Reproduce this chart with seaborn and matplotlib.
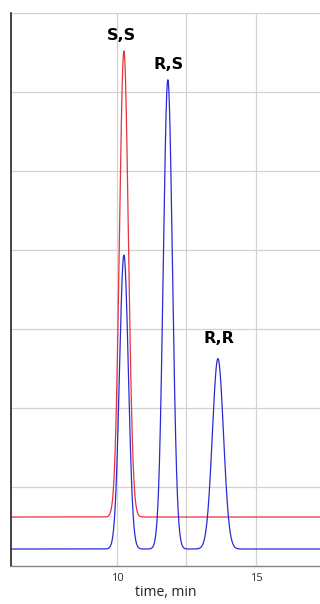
import numpy as np
import pandas as pd
import matplotlib
matplotlib.use("Agg")
import matplotlib.pyplot as plt
import seaborn as sns

# Peak table for each trace: retention time (min), height above baseline, width (sigma, min)
red_rt = [10.25]
red_height = [5.90]
red_sigma = [0.16]
red_baseline = 0.62

blue_rt = [10.25, 11.83, 13.63]
blue_height = [3.72, 5.94, 2.41]
blue_sigma = [0.16, 0.165, 0.20]
blue_baseline = 0.215

peak_labels = ["S,S", "R,S", "R,R"]
peak_label_time = [10.15, 11.85, 13.68]
peak_label_level = [6.72, 6.35, 2.88]

time_range = (6.19, 17.30)
x_ticks = [10, 15]


def trace(t, rts, heights, sigmas, base):
    y = np.full_like(t, base)
    for rt, h, s in zip(rts, heights, sigmas):
        y += h * np.exp(-0.5 * ((t - rt) / s) ** 2)
    return y


t = np.linspace(time_range[0], time_range[1], 3000)
df = pd.DataFrame({
    "time": np.concatenate([t, t]),
    "signal": np.concatenate([
        trace(t, red_rt, red_height, red_sigma, red_baseline),
        trace(t, blue_rt, blue_height, blue_sigma, blue_baseline),
    ]),
    "run": ["red"] * len(t) + ["blue"] * len(t),
})

sns.set_style("white")
plt.rcParams["font.family"] = ["Open Sans", "DejaVu Sans"]
fig = plt.figure(figsize=(3.2, 6.04), dpi=100)
ax = fig.add_axes([11 / 320, 38 / 604, 309 / 320, 553 / 604])

sns.lineplot(data=df, x="time", y="signal", hue="run",
             palette={"red": "#e8323c", "blue": "#2b2bd6"},
             linewidth=0.9, legend=False, ax=ax, sort=False, estimator=None)

ax.set_xlim(*time_range)
ax.set_ylim(0, 7)
ax.set_xticks(x_ticks)
ax.set_xticks([12.5], minor=True)
ax.set_yticks([0, 2, 4, 6])
ax.set_yticks([1, 3, 5, 7], minor=True)
ax.set_yticklabels([])
ax.grid(True, which="both", color="#d2d2d2", linewidth=0.9)
ax.set_axisbelow(True)

for side in ["top", "right"]:
    ax.spines[side].set_visible(False)
ax.spines["left"].set_color("#222222")
ax.spines["left"].set_linewidth(1.2)
ax.spines["bottom"].set_color("#888888")
ax.spines["bottom"].set_linewidth(1.0)

ax.tick_params(axis="y", which="major", direction="out", length=4, width=1, color="#222222")
ax.tick_params(axis="y", which="minor", length=0)
ax.tick_params(axis="x", which="major", direction="out", length=4, width=1,
               color="#222222", labelsize=8, labelcolor="#333333", pad=1)
ax.tick_params(axis="x", which="minor", length=0)

ax.set_xlabel("time, min", fontsize=10, color="#222222", labelpad=1)
ax.set_ylabel("")

for lab, xt, yl in zip(peak_labels, peak_label_time, peak_label_level):
    ax.text(xt, yl, lab, ha="center", va="center", fontsize=11.5,
            fontweight="bold", color="black", family=["DejaVu Sans"])

fig.savefig("out.png", dpi=100)
